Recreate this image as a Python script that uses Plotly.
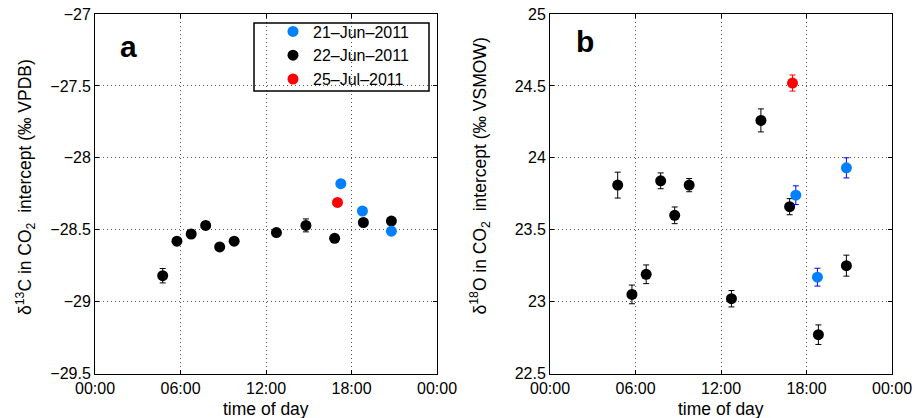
import plotly.graph_objects as go
import pandas as pd

# ---------------- data ----------------
series_names = ["21–Jun–2011", "22–Jun–2011", "25–Jul–2011"]
marker_colors = ["#0080ff", "#000000", "#ff0000"]
errbar_colors = ["#0000ff", "#000000", "#ff0000"]

time_jun21 = ["17:15", "18:46", "20:48"]
d13c_jun21 = [-28.18, -28.37, -28.51]
d13c_err_jun21 = [0.02, 0.02, 0.02]
d18o_jun21 = [23.74, 23.17, 23.93]
d18o_err_jun21 = [0.065, 0.062, 0.07]

time_jun22 = ["04:45", "05:45", "06:45", "07:46", "08:45", "09:46",
              "12:44", "14:48", "16:49", "18:50", "20:48"]
d13c_jun22 = [-28.82, -28.58, -28.53, -28.47, -28.62, -28.58,
              -28.52, -28.47, -28.56, -28.45, -28.44]
d13c_err_jun22 = [0.05, 0.025, 0.025, 0.025, 0.025, 0.025,
                  0.025, 0.045, 0.025, 0.025, 0.025]
d18o_jun22 = [23.81, 23.05, 23.19, 23.84, 23.60, 23.81,
              23.02, 24.26, 23.66, 22.77, 23.25]
d18o_err_jun22 = [0.09, 0.065, 0.065, 0.055, 0.058, 0.046,
                  0.057, 0.08, 0.056, 0.068, 0.073]

time_jul25 = ["17:01"]
d13c_jul25 = [-28.31]
d13c_err_jul25 = [0.02]
d18o_jul25 = [24.52]
d18o_err_jul25 = [0.056]

x_tick_step_hours = 6
y1_range = [-29.5, -27]
y2_range = [22.5, 25]
y_tick_step = 0.5

# ---------------- figure ----------------
W, H = 915, 418
FONT = "Liberation Sans, Arial, Helvetica, sans-serif"


def to_dt(times):
    return pd.to_datetime(["2011-01-01 " + t for t in times])


groups = [
    # (index in legend, times, d13c, d13c_err, d18o, d18o_err)
    (1, time_jun22, d13c_jun22, d13c_err_jun22, d18o_jun22, d18o_err_jun22),
    (0, time_jun21, d13c_jun21, d13c_err_jun21, d18o_jun21, d18o_err_jun21),
    (2, time_jul25, d13c_jul25, d13c_err_jul25, d18o_jul25, d18o_err_jul25),
]

fig = go.Figure()
for idx, t, c, ce, o, oe in groups:
    xs = to_dt(t)
    for (vals, errs, xa, ya, show) in [(c, ce, "x", "y", True), (o, oe, "x2", "y2", False)]:
        fig.add_trace(go.Scatter(
            x=xs, y=vals, mode="markers", xaxis=xa, yaxis=ya,
            name=series_names[idx], legendrank=idx + 1, showlegend=show,
            marker=dict(color=marker_colors[idx], size=11, line=dict(width=0)),
            error_y=dict(type="data", array=errs, visible=True,
                         color=errbar_colors[idx], thickness=1, width=3),
        ))

px = lambda v: v / W
py = lambda v: 1 - v / H

xr = ["2011-01-01 00:00", "2011-01-02 00:00"]
common_x = dict(range=xr, type="date", tickformat="%H:%M", tick0="2011-01-01",
                dtick=x_tick_step_hours * 3600 * 1000,
                showgrid=True, gridcolor="#555", griddash="1px,3px", gridwidth=1,
                showline=True, linecolor="black", linewidth=1, mirror="ticks",
                ticks="inside", ticklen=4, tickcolor="black",
                tickfont=dict(family=FONT, size=16, color="black"),
                zeroline=False, automargin=False, fixedrange=True)
common_y = dict(dtick=y_tick_step,
                showgrid=True, gridcolor="#555", griddash="1px,3px", gridwidth=1,
                showline=True, linecolor="black", linewidth=1, mirror="ticks",
                ticks="inside", ticklen=4, tickcolor="black",
                tickfont=dict(family=FONT, size=16, color="black"),
                zeroline=False, automargin=False, fixedrange=True)

ydom = [py(373.5), py(14)]
fig.update_layout(
    width=W, height=H,
    margin=dict(l=0, r=0, t=0, b=0),
    paper_bgcolor="white", plot_bgcolor="white",
    font=dict(family=FONT, color="black"),
    xaxis=dict(domain=[px(95), px(437)], anchor="y", **common_x),
    yaxis=dict(domain=ydom, anchor="x", range=y1_range, **common_y),
    xaxis2=dict(domain=[px(550), px(892)], anchor="y2", **common_x),
    yaxis2=dict(domain=ydom, anchor="x2", range=y2_range, **common_y),
    legend=dict(x=px(273), y=py(14.5), xanchor="left", yanchor="top",
                bgcolor="rgba(0,0,0,0)", borderwidth=0,
                font=dict(family=FONT, size=16, color="black")),
    showlegend=True,
)

# legend frame
fig.add_shape(type="rect", xref="paper", yref="paper",
              x0=px(254), x1=px(429), y0=py(91), y1=py(23),
              line=dict(color="black", width=1.5), fillcolor="rgba(0,0,0,0)")

ann = []
# panel labels
ann.append(dict(text="<b>a</b>", x=px(118), y=py(47), xanchor="left", yanchor="middle",
                font=dict(family=FONT, size=30, color="black")))
ann.append(dict(text="<b>b</b>", x=px(574), y=py(41), xanchor="left", yanchor="middle",
                font=dict(family=FONT, size=30, color="black")))
# x titles
for cx in (266, 721):
    ann.append(dict(text="time of day", x=px(cx), y=py(409), xanchor="center", yanchor="middle",
                    font=dict(family=FONT, size=17.5, color="black")))
# y titles
ann.append(dict(text="δ<sup>13</sup>C in CO<sub>2</sub>  intercept (‰ VPDB)",
                x=px(25), y=py(317), xanchor="center", yanchor="bottom", textangle=-90,
                font=dict(family=FONT, size=17.5, color="black")))
ann.append(dict(text="δ<sup>18</sup>O in CO<sub>2</sub>  intercept (‰ VSMOW)",
                x=px(480), y=py(317), xanchor="center", yanchor="bottom", textangle=-90,
                font=dict(family=FONT, size=17.5, color="black")))
for a in ann:
    a.update(xref="paper", yref="paper", showarrow=False)
fig.update_layout(annotations=ann)

fig.write_html("out.html")
